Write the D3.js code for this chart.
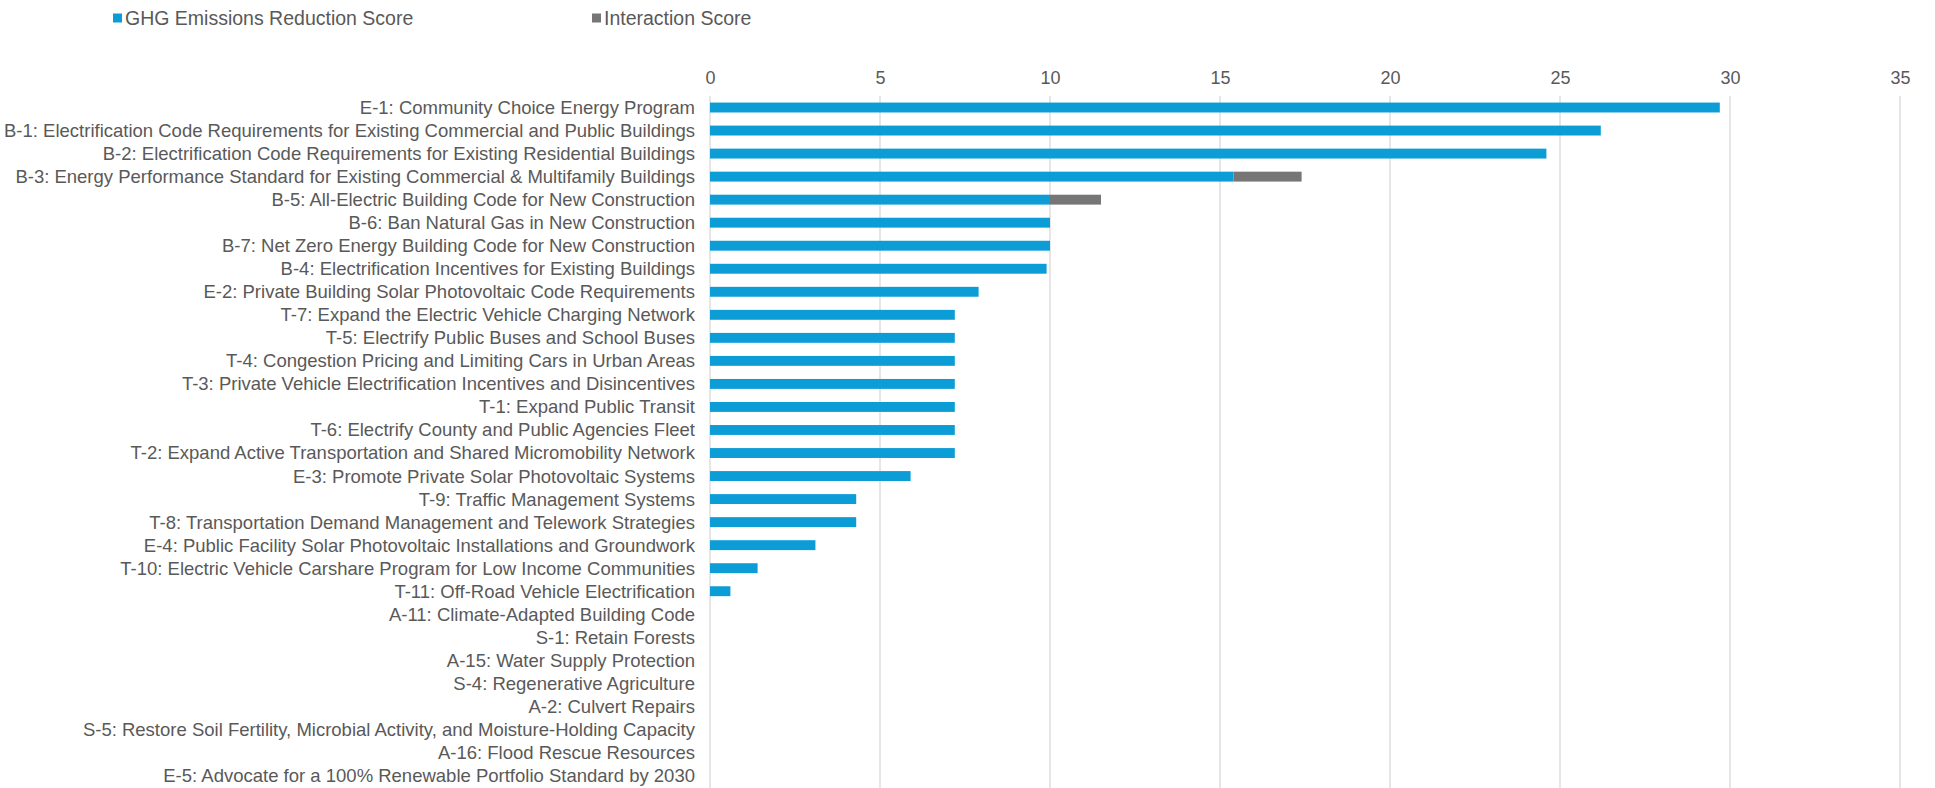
<!DOCTYPE html>
<html>
<head>
<meta charset="utf-8">
<script src="https://cdn.jsdelivr.net/npm/d3@7"></script>
<style>
  html, body { margin: 0; padding: 0; background: #ffffff; }
  svg { display: block; font-family: "Liberation Sans", Arial, sans-serif; }
</style>
</head>
<body>
<svg id="chart" width="1935" height="788"></svg>
<script>
// Climate action measures, ranked by score
const measures = [
  "E-1: Community Choice Energy Program",
  "B-1: Electrification Code Requirements for Existing Commercial and Public Buildings",
  "B-2: Electrification Code Requirements for Existing Residential Buildings",
  "B-3: Energy Performance Standard for Existing Commercial & Multifamily Buildings",
  "B-5: All-Electric Building Code for New Construction",
  "B-6: Ban Natural Gas in New Construction",
  "B-7: Net Zero Energy Building Code for New Construction",
  "B-4: Electrification Incentives for Existing Buildings",
  "E-2: Private Building Solar Photovoltaic Code Requirements",
  "T-7: Expand the Electric Vehicle Charging Network",
  "T-5: Electrify Public Buses and School Buses",
  "T-4: Congestion Pricing and Limiting Cars in Urban Areas",
  "T-3: Private Vehicle Electrification Incentives and Disincentives",
  "T-1: Expand Public Transit",
  "T-6: Electrify County and Public Agencies Fleet",
  "T-2: Expand Active Transportation and Shared Micromobility Network",
  "E-3: Promote Private Solar Photovoltaic Systems",
  "T-9: Traffic Management Systems",
  "T-8: Transportation Demand Management and Telework Strategies",
  "E-4: Public Facility Solar Photovoltaic Installations and Groundwork",
  "T-10: Electric Vehicle Carshare Program for Low Income Communities",
  "T-11: Off-Road Vehicle Electrification",
  "A-11: Climate-Adapted Building Code",
  "S-1: Retain Forests",
  "A-15: Water Supply Protection",
  "S-4: Regenerative Agriculture",
  "A-2: Culvert Repairs",
  "S-5: Restore Soil Fertility, Microbial Activity, and Moisture-Holding Capacity",
  "A-16: Flood Rescue Resources",
  "E-5: Advocate for a 100% Renewable Portfolio Standard by 2030"
];

const ghgScore = [
  29.7, 26.2, 24.6, 15.4, 10.0, 10.0, 10.0, 9.9, 7.9, 7.2,
  7.2, 7.2, 7.2, 7.2, 7.2, 7.2, 5.9, 4.3, 4.3, 3.1,
  1.4, 0.6, 0, 0, 0, 0, 0, 0, 0, 0
];

const interactionScore = [
  0, 0, 0, 2.0, 1.5, 0, 0, 0, 0, 0,
  0, 0, 0, 0, 0, 0, 0, 0, 0, 0,
  0, 0, 0, 0, 0, 0, 0, 0, 0, 0
];

const xTicks = [0, 5, 10, 15, 20, 25, 30, 35];

const seriesNames = ["GHG Emissions Reduction Score", "Interaction Score"];
const seriesColors = ["#0C9CD6", "#767676"];

const textColor = "#595959";
const gridColor = "#D9D9D9";

const svg = d3.select("#chart");

const x = d3.scaleLinear().domain([0, 35]).range([710, 1900]);
const y = d3.scaleBand().domain(measures).range([96, 787])
  .paddingInner(0.57).paddingOuter(0.285);

// vertical gridlines
svg.append("g")
  .selectAll("line")
  .data(xTicks)
  .join("line")
  .attr("x1", d => x(d)).attr("x2", d => x(d))
  .attr("y1", 96).attr("y2", 788)
  .attr("stroke", gridColor)
  .attr("stroke-width", 1.3);

// value axis on top
const xAxis = svg.append("g")
  .attr("transform", "translate(0,84)")
  .call(d3.axisTop(x).tickValues(xTicks).tickSize(0).tickPadding(0).tickFormat(d3.format("d")));
xAxis.select(".domain").remove();
xAxis.selectAll("text")
  .attr("fill", textColor)
  .style("font-size", "18px")
  .style("font-family", "'Liberation Sans', Arial, sans-serif");

// category labels
svg.append("g")
  .selectAll("text")
  .data(measures)
  .join("text")
  .attr("x", 695)
  .attr("y", d => y(d) + y.bandwidth() / 2)
  .attr("dy", "0.35em")
  .attr("text-anchor", "end")
  .attr("fill", textColor)
  .style("font-size", "18.5px")
  .text(d => d);

// stacked bars
const rows = measures.map((m, i) => ({ m, ghg: ghgScore[i], inter: interactionScore[i] }));

svg.append("g")
  .selectAll("rect")
  .data(rows.filter(r => r.ghg > 0))
  .join("rect")
  .attr("x", x(0))
  .attr("y", d => y(d.m))
  .attr("width", d => x(d.ghg) - x(0))
  .attr("height", y.bandwidth())
  .attr("fill", seriesColors[0]);

svg.append("g")
  .selectAll("rect")
  .data(rows.filter(r => r.inter > 0))
  .join("rect")
  .attr("x", d => x(d.ghg))
  .attr("y", d => y(d.m))
  .attr("width", d => x(d.ghg + d.inter) - x(d.ghg))
  .attr("height", y.bandwidth())
  .attr("fill", seriesColors[1]);

// legend
const legendX = [113, 592];
const legend = svg.append("g")
  .selectAll("g")
  .data(seriesNames)
  .join("g")
  .attr("transform", (d, i) => `translate(${legendX[i]},18)`);
legend.append("rect")
  .attr("x", 0).attr("y", -4.5)
  .attr("width", 9).attr("height", 9)
  .attr("fill", (d, i) => seriesColors[i]);
legend.append("text")
  .attr("x", 12)
  .attr("dy", "0.35em")
  .attr("fill", textColor)
  .style("font-size", "19.5px")
  .text(d => d);
</script>
</body>
</html>
